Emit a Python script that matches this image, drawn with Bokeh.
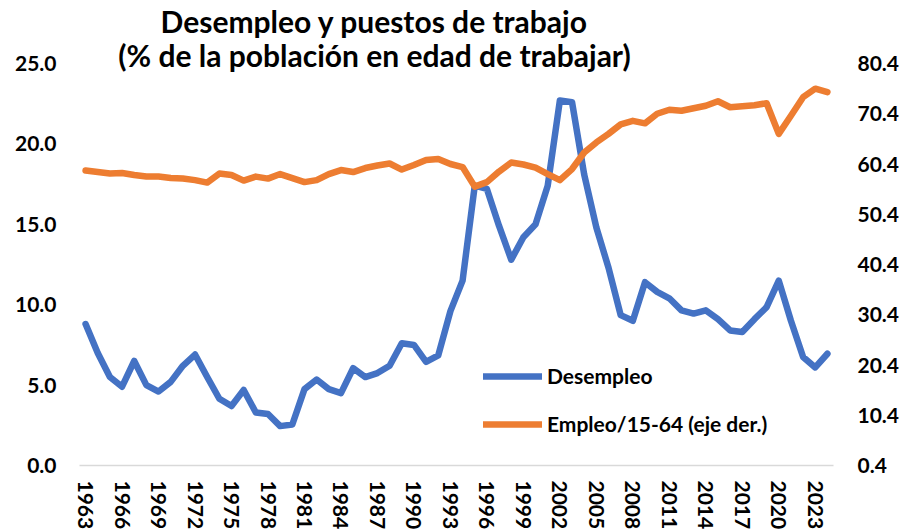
from bokeh.plotting import figure
from bokeh.models import (Range1d, LinearAxis, FixedTicker, NumeralTickFormatter,
                          Label, Legend, LegendItem, ColumnDataSource)
from bokeh.embed import file_html
from bokeh.resources import INLINE

years = list(range(1963, 2025))
desempleo = [8.8, 7.0, 5.5, 4.9, 6.5, 5.0, 4.6, 5.2, 6.2, 6.9,
             5.5, 4.15, 3.7, 4.7, 3.3, 3.2, 2.45, 2.55, 4.75, 5.35,
             4.75, 4.5, 6.05, 5.5, 5.75, 6.2, 7.6, 7.5, 6.45, 6.85,
             9.6, 11.5, 17.4, 17.2, 14.9, 12.8, 14.2, 15.0, 17.4, 22.7,
             22.6, 18.1, 14.8, 12.3, 9.35, 9.0, 11.4, 10.8, 10.4, 9.65,
             9.45, 9.65, 9.1, 8.4, 8.3, 9.1, 9.85, 11.5, 9.0, 6.75,
             6.1, 6.95]
empleo = [59.1, 58.8, 58.5, 58.6, 58.2, 57.9, 57.9, 57.6, 57.5, 57.2,
          56.7, 58.5, 58.2, 57.1, 57.9, 57.5, 58.4, 57.6, 56.8, 57.2,
          58.4, 59.2, 58.8, 59.6, 60.1, 60.5, 59.3, 60.2, 61.2, 61.4,
          60.4, 59.8, 55.9, 56.8, 58.9, 60.7, 60.3, 59.7, 58.4, 57.2,
          59.4, 62.7, 64.7, 66.4, 68.3, 69.0, 68.5, 70.4, 71.2, 71.0,
          71.5, 72.0, 72.9, 71.7, 71.9, 72.1, 72.5, 66.4, 70.0, 73.7,
          75.4, 74.7]
left_ticks = [0, 5, 10, 15, 20, 25]
right_ticks = [0.4, 10.4, 20.4, 30.4, 40.4, 50.4, 60.4, 70.4, 80.4]
year_ticks = years[::3]
title_1 = "Desempleo y puestos de trabajo"
title_2 = "(% de la población en edad de trabajar)"
label_des = "Desempleo"
label_emp = "Empleo/15-64 (eje der.)"

BLUE = "#4472C4"
ORANGE = "#ED7D31"
FONT = "Lato"

y_top = 28.92
src = ColumnDataSource(dict(year=years, des=desempleo, emp=empleo))

p = figure(width=903, height=532, output_backend="svg", toolbar_location=None,
           x_range=Range1d(1962.5, 2024.5), y_range=Range1d(0, y_top),
           min_border_left=79, min_border_right=70, min_border_top=0,
           min_border_bottom=67, outline_line_color=None, background_fill_color="white")
p.extra_y_ranges = {"right": Range1d(0.4, 0.4 + 3.2 * y_top)}

p.xgrid.visible = False
p.ygrid.visible = False

def style_axis(ax, standoff):
    ax.major_tick_in = 0
    ax.major_tick_out = 0
    ax.minor_tick_in = 0
    ax.minor_tick_out = 0
    ax.major_label_standoff = standoff
    ax.major_label_text_font = FONT
    ax.major_label_text_font_style = "bold"
    ax.major_label_text_font_size = "21px"
    ax.major_label_text_color = "black"

# x axis
xa = p.xaxis[0]
xa.ticker = FixedTicker(ticks=year_ticks)
xa.major_label_orientation = "vertical"
xa.axis_line_color = "#D9D9D9"
xa.axis_line_width = 1.5
style_axis(xa, 15)

# left y axis
ya = p.yaxis[0]
ya.ticker = FixedTicker(ticks=left_ticks)
ya.formatter = NumeralTickFormatter(format="0.0")
ya.axis_line_color = None
style_axis(ya, 23)

# right y axis
ra = LinearAxis(y_range_name="right", ticker=FixedTicker(ticks=right_ticks),
                formatter=NumeralTickFormatter(format="0.0"))
ra.axis_line_color = None
style_axis(ra, 24)
p.add_layout(ra, "right")

r_des = p.line("year", "des", source=src, line_color=BLUE, line_width=6.5,
               line_join="round", line_cap="round")
r_emp = p.line("year", "emp", source=src, y_range_name="right", line_color=ORANGE,
               line_width=6.5, line_join="round", line_cap="round")

legend = Legend(items=[LegendItem(label=label_des, renderers=[r_des]),
                       LegendItem(label=label_emp, renderers=[r_emp])],
                location=(404, 29), padding=0, margin=0, border_line_color=None,
                background_fill_alpha=0, glyph_width=59, glyph_height=20,
                label_height=20, spacing=23, label_standoff=5,
                label_text_font=FONT, label_text_font_style="bold",
                label_text_font_size="21px", label_text_color="black")
p.add_layout(legend, "center")

for txt, yv in [(title_1, 27.65), (title_2, 25.55)]:
    p.add_layout(Label(x=295, y=yv, x_units="screen", y_units="data", text=txt,
                       text_align="center", text_baseline="alphabetic",
                       text_font=FONT, text_font_style="bold",
                       text_font_size="30px", text_color="black"))

open("out.html", "w").write(file_html(p, INLINE))
